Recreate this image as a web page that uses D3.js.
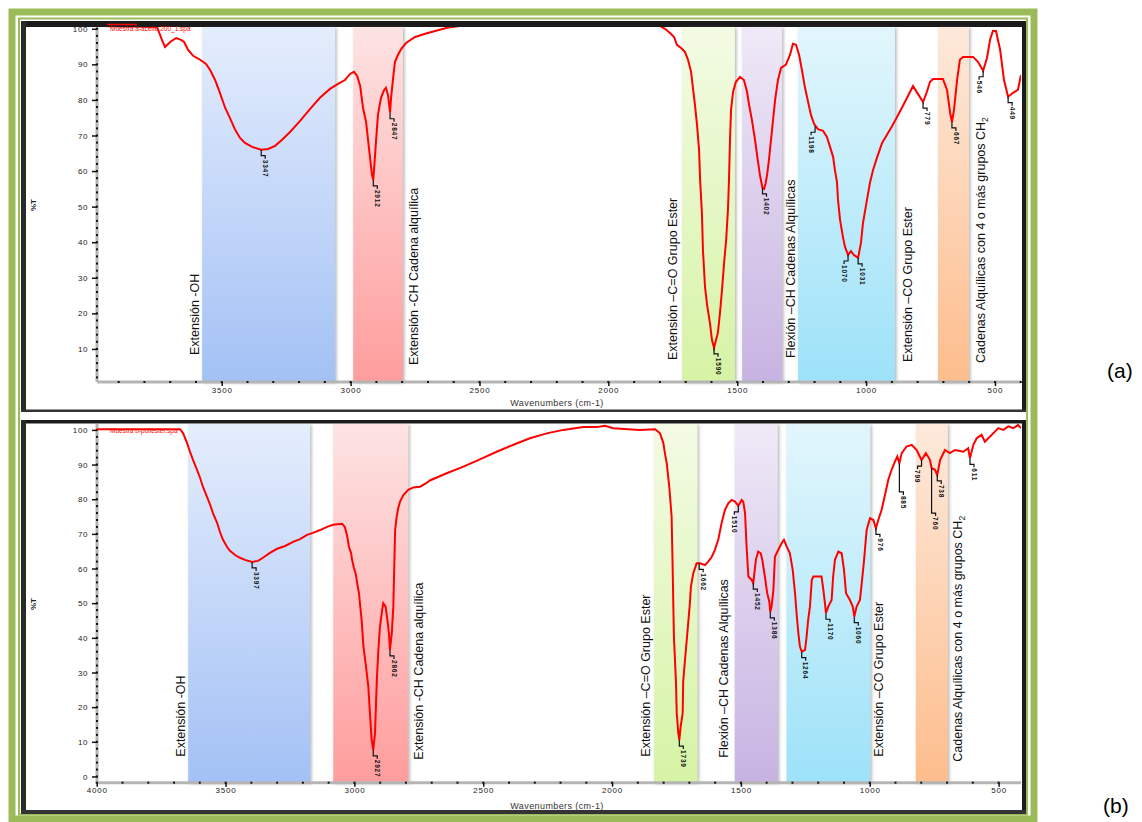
<!DOCTYPE html>
<html><head><meta charset="utf-8">
<script src="https://cdn.jsdelivr.net/npm/d3@7"></script>
<style>
body{margin:0;background:#fff;}
svg{display:block;}
text{font-family:"Liberation Sans",Arial,sans-serif;}
</style></head>
<body><svg id="c" width="1142" height="822"></svg>
<script>
// ---------------- DATA ----------------
// Spectrum (a): [wavenumber cm-1, %T]
const spectrumA = [[3984,100.8],[3751,100.5],[3732,96.9],[3720,94.9],[3700,96.3],[3677,97.4],[3658,96.9],[3646,96.3],[3631,94.1],[3611,92.4],[3584,91.3],[3561,90.1],[3545,88.4],[3526,85.6],[3507,82.0],[3487,77.8],[3468,74.9],[3448,71.6],[3429,69.3],[3410,67.9],[3382,66.8],[3347,66.0],[3320,66.2],[3293,67.1],[3266,68.8],[3235,71.0],[3196,74.1],[3157,77.5],[3119,80.6],[3080,83.1],[3049,84.5],[3022,85.6],[3002,87.3],[2987,87.9],[2975,86.8],[2963,83.9],[2952,77.8],[2940,73.8],[2928,65.9],[2917,58.9],[2912,57.5],[2901,68.8],[2894,75.8],[2882,80.6],[2870,82.8],[2863,83.4],[2855,81.4],[2847,76.4],[2843,80.6],[2835,86.2],[2828,90.7],[2816,92.7],[2804,94.3],[2785,96.0],[2750,97.7],[2711,98.6],[2672,99.4],[2626,100.3],[2575,100.8],[1800,100.8],[1780,100.0],[1761,98.8],[1745,97.7],[1734,95.5],[1718,94.6],[1703,93.5],[1691,91.3],[1679,87.9],[1671,82.8],[1664,78.6],[1656,73.0],[1648,65.9],[1644,57.5],[1637,48.2],[1633,37.8],[1625,27.4],[1617,22.4],[1606,17.3],[1598,12.5],[1590,10.3],[1575,14.5],[1567,20.1],[1559,26.6],[1551,34.2],[1543,40.6],[1536,49.1],[1532,57.5],[1528,68.8],[1524,77.2],[1516,82.3],[1505,85.1],[1489,86.5],[1474,85.6],[1462,82.3],[1454,78.6],[1443,74.4],[1431,68.8],[1423,64.5],[1412,58.9],[1402,55.3],[1396,55.0],[1390,56.5],[1384,59.0],[1377,63.1],[1365,71.6],[1353,80.0],[1342,85.6],[1330,89.0],[1311,89.9],[1295,92.7],[1284,95.8],[1272,95.5],[1260,92.7],[1249,88.4],[1237,83.4],[1225,79.4],[1214,75.8],[1202,73.3],[1187,71.8],[1167,71.3],[1152,69.6],[1140,66.8],[1128,64.0],[1121,60.3],[1113,56.9],[1109,51.9],[1101,46.3],[1090,41.5],[1082,38.7],[1070,36.4],[1059,37.5],[1047,36.4],[1031,35.6],[1020,39.8],[1012,45.4],[1000,50.5],[985,56.7],[973,60.3],[958,63.7],[938,67.9],[919,70.2],[899,72.7],[880,75.2],[861,77.8],[841,80.6],[818,83.9],[799,81.7],[779,79.4],[764,82.3],[752,85.1],[740,85.9],[702,85.9],[686,82.8],[674,76.4],[667,73.8],[659,77.2],[647,85.6],[636,91.3],[624,92.1],[585,92.1],[566,90.7],[546,88.2],[531,91.8],[519,96.9],[508,99.4],[496,99.4],[480,94.1],[465,85.6],[449,80.9],[430,82.0],[411,82.8],[399,87.0]];

// Spectrum (b): [wavenumber cm-1, %T]
const spectrumB = [[3999,100.2],[3677,100.2],[3665,99.1],[3650,96.3],[3638,93.7],[3626,91.3],[3611,88.5],[3599,86.2],[3588,83.6],[3572,80.7],[3560,78.4],[3549,76.0],[3533,73.2],[3522,70.6],[3510,68.3],[3494,66.2],[3483,65.1],[3463,63.9],[3444,63.1],[3425,62.5],[3397,61.9],[3374,62.2],[3355,63.1],[3328,64.5],[3300,65.7],[3269,66.5],[3238,67.7],[3211,68.5],[3184,69.7],[3161,70.3],[3133,71.1],[3106,72.0],[3083,72.6],[3048,72.9],[3037,72.0],[3029,69.7],[3021,66.2],[3013,64.5],[3009,62.5],[3002,60.2],[2994,58.2],[2990,56.1],[2982,52.7],[2978,49.5],[2972,45.2],[2965,37.5],[2955,31.7],[2946,25.9],[2939,17.3],[2933,10.5],[2927,7.7],[2920,12.5],[2913,27.9],[2907,36.5],[2901,43.2],[2894,47.1],[2888,50.0],[2879,49.0],[2872,45.2],[2866,41.3],[2862,36.5],[2855,41.3],[2849,49.0],[2842,71.1],[2836,75.0],[2830,77.4],[2823,79.3],[2810,81.2],[2791,82.7],[2771,83.4],[2745,83.6],[2726,84.4],[2707,85.4],[2642,87.5],[2577,89.4],[2513,91.5],[2448,93.7],[2383,95.7],[2319,97.6],[2254,99.0],[2189,100.0],[2112,100.8],[2060,100.8],[2028,101.2],[1995,100.5],[1892,100.0],[1833,100.2],[1814,99.0],[1801,96.2],[1795,93.3],[1788,90.4],[1778,83.6],[1769,75.0],[1765,60.6],[1762,48.1],[1760,40.4],[1752,27.0],[1749,18.2],[1743,12.5],[1739,10.5],[1734,14.4],[1726,18.2],[1724,27.4],[1717,33.6],[1708,41.3],[1698,50.0],[1694,54.8],[1685,58.6],[1672,61.5],[1659,61.5],[1639,61.0],[1627,62.0],[1613,63.4],[1601,65.4],[1588,68.3],[1575,73.1],[1562,76.9],[1549,78.8],[1536,79.8],[1523,79.3],[1510,78.1],[1497,79.8],[1491,79.3],[1484,76.0],[1478,66.3],[1471,57.7],[1458,56.7],[1452,55.8],[1442,62.5],[1433,64.9],[1423,64.4],[1417,62.5],[1407,57.7],[1398,52.9],[1390,50.5],[1386,47.5],[1381,49.0],[1374,53.8],[1368,63.4],[1355,65.4],[1342,67.3],[1333,68.3],[1322,66.3],[1310,64.4],[1299,59.6],[1290,52.9],[1284,47.1],[1277,41.3],[1271,37.5],[1264,36.0],[1251,36.5],[1245,40.4],[1239,45.2],[1232,49.0],[1225,56.7],[1219,57.7],[1187,57.7],[1180,53.8],[1174,50.1],[1170,47.1],[1161,49.0],[1148,50.9],[1142,57.7],[1135,62.5],[1122,64.9],[1109,64.4],[1100,59.6],[1092,52.9],[1077,50.9],[1066,49.0],[1060,46.1],[1051,49.0],[1038,50.9],[1031,55.8],[1022,62.5],[1012,71.1],[999,74.5],[986,74.0],[976,71.6],[967,74.0],[954,76.9],[941,81.2],[928,85.6],[915,88.5],[902,90.9],[893,92.3],[885,90.4],[876,93.3],[857,95.2],[837,95.7],[818,94.2],[799,91.3],[782,93.3],[766,91.3],[760,89.0],[747,88.5],[738,87.0],[727,91.3],[708,94.2],[689,93.3],[669,94.2],[637,93.7],[618,94.7],[611,91.8],[598,95.7],[585,97.6],[566,98.6],[553,96.6],[540,97.6],[521,99.0],[501,100.5],[482,100.0],[462,101.0],[443,100.5],[424,101.4],[413,100.5]];

// Absorption regions [from, to] in cm-1
const bandNames = ["Extensión -OH","Extensión -CH Cadena alquílica","Extensión –C=O Grupo Ester","Flexión –CH Cadenas Alquílicas","Extensión –CO Grupo Ester","Cadenas Alquílicas con 4 o más grupos CH"];
const bandsA = [[3576,3060],[2990,2797],[1714,1509],[1481,1326],[1264,888],[721,601]];
const bandsB = [[3645,3172],[3082,2791],[1837,1669],[1524,1357],[1323,998],[821,697]];

// Peak marks
const peakWavesA = [3347,2912,2847,1590,1402,1198,1070,1031,779,667,546,449];
const peakValuesA = [66.0,57.5,76.4,10.3,55.3,72.6,36.4,35.6,79.4,73.8,88.2,80.9];
const peakTextA = ["3347","2912","2847","1590","1402","1198","1070","1031","779","667","546","449"];
const peakWavesB = [3397,2927,2862,1739,1662,1510,1452,1386,1264,1170,1060,976,885,799,760,738,611];
const peakValuesB = [61.9,7.7,36.5,10.5,61.5,78.1,55.8,47.5,36.0,47.1,46.1,71.6,90.4,91.3,89.0,87.0,91.8];
const peakTextB = ["3397","2927","2862","1739","1662","1510","1452","1386","1264","1170","1060","976","885","799","760","738","611"];

// Axis ticks
const xTicksA = [3500,3000,2500,2000,1500,1000,500];
const xTicksB = [4000,3500,3000,2500,2000,1500,1000,500];
const yTicksA = [10,20,30,40,50,60,70,80,90,100];
const yTicksB = [0,10,20,30,40,50,60,70,80,90,100];
const xTitle = "Wavenumbers (cm-1)";
const yTitle = "%T";
const legendA = "Muestra a-aceite 200_1.spa";
const legendB = "Muestra b-poliéster.spa";

// ---------------- STYLE / LAYOUT ----------------
const bandColors = [["#e4edfc","#a3c1f5"],["#fde3e3","#ff9d9d"],["#f3fbe4","#d6f3a5"],["#efe9f7","#c7b3e2"],["#e2f6fc","#9de2f9"],["#fde9db","#fdbd8c"]];
const svg = d3.select("#c");
const defs = svg.append("defs");
bandColors.forEach((c,i)=>{
  const lg = defs.append("linearGradient").attr("id","bg"+i).attr("x1",0).attr("y1",0).attr("x2",0).attr("y2",1);
  lg.append("stop").attr("offset","0%").attr("stop-color",c[0]);
  lg.append("stop").attr("offset","100%").attr("stop-color",c[1]);
});
const f = defs.append("filter").attr("id","sh").attr("x","-20%").attr("y","-5%").attr("width","140%").attr("height","110%");
f.append("feDropShadow").attr("dx",1.5).attr("dy",1).attr("stdDeviation",1.8).attr("flood-color","#777").attr("flood-opacity",0.55);

svg.append("rect").attr("width",1142).attr("height",822).attr("fill","#fff");

// Outer green frame
svg.append("rect").attr("x",12).attr("y",12).attr("width",1022).attr("height",807)
  .attr("fill","none").attr("stroke","#9bbb59").attr("stroke-width",7);
svg.append("rect").attr("x",19).attr("y",18.5).attr("width",1008).attr("height",796)
  .attr("fill","none").attr("stroke","#9bbb59").attr("stroke-width",2);

const panels = [
  {spec:spectrumA, bands:bandsA, pw:peakWavesA, pv:peakValuesA, pt:peakTextA,
   jog:[1,1,1,1,1,-1,-1,1,1,1,-1,1], leaderTo:{},
   xDomain:[3984,399], yDomain:[0.7,100.5], left:97, right:1021, top:27, bottom:382,
   xTicks:xTicksA, yTicks:yTicksA, minorY:d3.range(2,101,2), minorX:d3.range(400,3985,100),
   frame:{x0:21,y0:21,x1:1026,y1:412, topW:6, botW:2.5},
   labelOff:[[-3,-27],[15,-17],[-5,-22],[13,-24],[17,-20],[16,-19]],
   titleY:406, yTitleY:205, legend:legendA, legendY:31, tag:"(a)", tagX:1107, tagY:378},
  {spec:spectrumB, bands:bandsB, pw:peakWavesB, pv:peakValuesB, pt:peakTextB,
   jog:[1,1,1,1,1,-1,1,1,1,1,1,1,1,-1,1,1,1], leaderTo:{12:82.1,14:76.0},
   xDomain:[3999,413], yDomain:[-1.8,101.7], left:97, right:1021, top:424, bottom:782.7,
   xTicks:xTicksB, yTicks:yTicksB, minorY:d3.range(0,101,2), minorX:d3.range(500,4001,100),
   frame:{x0:21,y0:420,x1:1026,y1:814, topW:3.5, botW:4},
   labelOff:[[-3,-26],[15,-23],[-4,-26],[-7,-25],[13,-26],[14,-21]],
   titleY:809, yTitleY:604, legend:legendB, legendY:433, tag:"(b)", tagX:1103, tagY:813}
];

panels.forEach((p,pi)=>{
  const g = svg.append("g");
  const x = d3.scaleLinear().domain(p.xDomain).range([p.left,p.right]);
  const y = d3.scaleLinear().domain(p.yDomain).range([p.bottom,p.top]);
  const fr = p.frame;
  // panel frame
  g.append("rect").attr("x",fr.x0+3).attr("y",fr.y0+3).attr("width",fr.x1-fr.x0-6).attr("height",fr.y1-fr.y0-6).attr("fill","#fff");
  g.append("line").attr("x1",fr.x0).attr("x2",fr.x1).attr("y1",fr.y0+fr.topW/2).attr("y2",fr.y0+fr.topW/2).attr("stroke","#1b1b1b").attr("stroke-width",fr.topW);
  g.append("line").attr("x1",fr.x0+2.5).attr("x2",fr.x0+2.5).attr("y1",fr.y0).attr("y2",fr.y1).attr("stroke","#2a2a2a").attr("stroke-width",5);
  g.append("line").attr("x1",fr.x1-2).attr("x2",fr.x1-2).attr("y1",fr.y0).attr("y2",fr.y1).attr("stroke","#1b1b1b").attr("stroke-width",4);
  g.append("line").attr("x1",fr.x0).attr("x2",fr.x1).attr("y1",fr.y1-fr.botW/2).attr("y2",fr.y1-fr.botW/2).attr("stroke","#333").attr("stroke-width",fr.botW);

  // bands
  p.bands.forEach((b,i)=>{
    g.append("rect").attr("x",x(b[0])).attr("width",x(b[1])-x(b[0]))
      .attr("y",p.top).attr("height",p.bottom-p.top)
      .attr("fill","url(#bg"+i+")").attr("filter","url(#sh)");
  });
  // band labels
  p.bands.forEach((b,i)=>{
    const o = p.labelOff[i];
    const bx = o[0] < 0 ? x(b[0]) + o[0] : x(b[1]) + o[0];
    const by = p.bottom + o[1];
    const t = g.append("text").attr("transform",`translate(${bx},${by}) rotate(-90)`)
      .attr("font-size","12.5px").attr("fill","#111").text(bandNames[i]);
    if (i === 5) t.append("tspan").attr("font-size","8.5px").attr("dy","0.35em").text("2");
  });

  // axes
  g.append("line").attr("x1",p.left).attr("x2",p.right).attr("y1",p.bottom).attr("y2",p.bottom).attr("stroke","#b5b5b5").attr("stroke-width",3);
  g.append("line").attr("x1",p.left).attr("x2",p.left).attr("y1",p.top).attr("y2",p.bottom).attr("stroke","#b5b5b5").attr("stroke-width",3);
  g.selectAll(".mx").data(p.minorX).join("rect").attr("x",d=>x(d)-1).attr("y",p.bottom-1).attr("width",2).attr("height",2).attr("fill","#111");
  g.selectAll(".my").data(p.minorY).join("rect").attr("x",p.left-1).attr("y",d=>y(d)-1).attr("width",2).attr("height",2).attr("fill","#111");

  const xa = d3.axisBottom(x).tickValues(p.xTicks).tickSize(4).tickPadding(1).tickFormat(d3.format("d"));
  const xg = g.append("g").attr("transform",`translate(0,${p.bottom})`).call(xa);
  xg.select(".domain").remove();
  xg.selectAll("line").attr("stroke","#111").attr("stroke-width",1.5);
  xg.selectAll("text").attr("font-size","8px").attr("letter-spacing","0.8px").attr("fill","#222").attr("font-family","Liberation Sans, Arial, sans-serif");
  const ya = d3.axisLeft(y).tickValues(p.yTicks).tickSize(5).tickPadding(4).tickFormat(d3.format("d"));
  const yg = g.append("g").attr("transform",`translate(${p.left},0)`).call(ya);
  yg.select(".domain").remove();
  yg.selectAll("line").attr("stroke","#111").attr("stroke-width",1.5);
  yg.selectAll("text").attr("font-size","8px").attr("letter-spacing","0.6px").attr("fill","#222").attr("font-family","Liberation Sans, Arial, sans-serif");

  // titles
  g.append("text").attr("x",557).attr("y",p.titleY).attr("text-anchor","middle")
    .attr("font-size","9px").attr("letter-spacing","0.4px").attr("fill","#333").text(xTitle);
  g.append("text").attr("transform",`translate(36,${p.yTitleY}) rotate(-90)`).attr("text-anchor","middle")
    .attr("font-size","8px").attr("font-weight","bold").attr("fill","#222").text(yTitle);

  // spectrum
  const cid = "clip"+pi;
  defs.append("clipPath").attr("id",cid).append("rect").attr("x",p.left).attr("y",p.top).attr("width",p.right-p.left).attr("height",p.bottom-p.top);
  const line = d3.line().x(d=>x(d[0])).y(d=>y(d[1])).curve(d3.curveLinear);
  g.append("path").datum(p.spec).attr("d",line).attr("fill","none").attr("stroke","#ff0000")
    .attr("stroke-width",2).attr("stroke-linejoin","miter").attr("clip-path",`url(#${cid})`);

  // legend
  g.append("text").attr("x",110).attr("y",p.legendY).attr("font-size","6.5px").attr("fill","#f00").text(p.legend);
  if (pi === 0) g.append("line").attr("x1",107).attr("x2",137).attr("y1",24.5).attr("y2",24.5).attr("stroke","#f00").attr("stroke-width",1.5);

  // peak markers
  p.pw.forEach((w,i)=>{
    const px = x(w), py = y(p.pv[i]);
    const dir = p.jog[i];
    const ly = p.leaderTo[i] !== undefined ? y(p.leaderTo[i]) : py + 6;
    g.append("path").attr("d",`M${px},${py}V${ly}H${px+4*dir}V${ly+3}`).attr("fill","none").attr("stroke","#111").attr("stroke-width",1.2);
    g.append("text").attr("transform",`translate(${px+4*dir},${ly+4}) rotate(90)`).attr("dy","0.35em")
      .attr("font-size","6.5px").attr("font-weight","bold").attr("letter-spacing","0.8px").attr("fill","#111").text(p.pt[i]);
  });

  // tag
  svg.append("text").attr("x",p.tagX).attr("y",p.tagY).attr("font-family","Liberation Serif, Times New Roman, serif")
    .attr("font-size","21px").attr("fill","#000").text(p.tag);
});
</script>
</body></html>
